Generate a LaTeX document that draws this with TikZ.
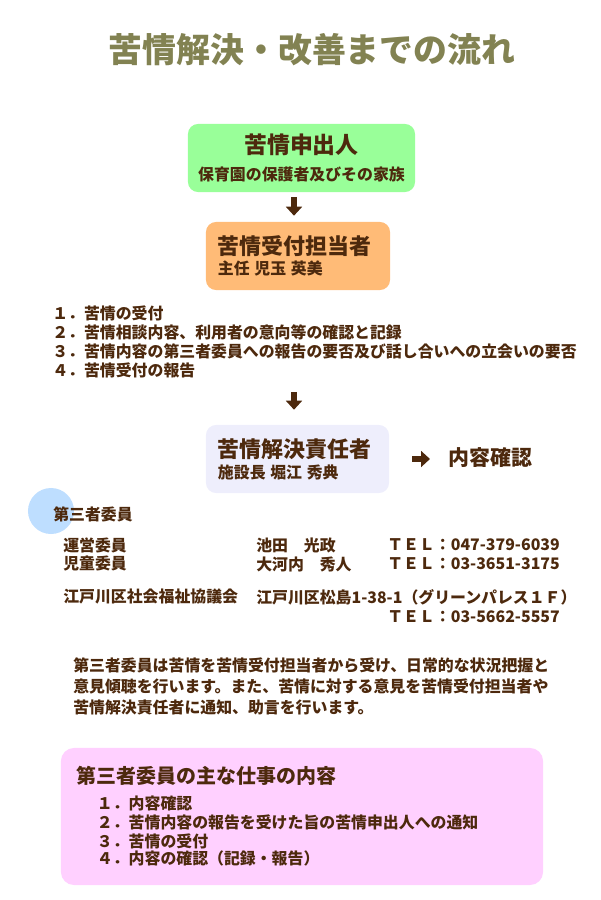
\documentclass[tikz,border=0pt]{standalone}
\usepackage{fontspec}
\setmainfont{Noto Sans CJK JP}
\usetikzlibrary{arrows.meta}

\definecolor{txtbrown}{RGB}{77,41,13}
\definecolor{titleolive}{RGB}{130,130,82}
\definecolor{applicantgreen}{RGB}{153,255,153}
\definecolor{receptionorange}{RGB}{255,187,119}
\definecolor{managerlavender}{RGB}{238,238,252}
\definecolor{dutiespink}{RGB}{255,208,255}
\definecolor{markerblue}{RGB}{190,222,255}

\tikzset{
    panel/.style={rounded corners=0.25cm, inner xsep=0.3cm, inner ysep=0pt,
        minimum height=1.7cm, align=left, font=\bfseries},
    fat arrow/.style={line width=4.25pt, draw=txtbrown,
        -{Triangle[length=6.4pt, width=11.3pt]}},
    body/.style={anchor=west, align=left,
        font=\fontsize{11.3pt}{13.5pt}\selectfont\bfseries},
}

\begin{document}
\begin{tikzpicture}[x=0.025cm, y=-0.025cm,
    every node/.style={text=txtbrown, inner sep=0pt}]
    \useasboundingbox (0, 0) rectangle (600, 900);
    % heading
    \node  (0) at (312, 50) [text=titleolive, font=\fontsize{24.1pt}{28pt}\selectfont\bfseries] {苦情解決・改善までの流れ};
    % complainant
    \node  (1) at (301.5, 158) [panel, fill=applicantgreen, align=center, text width=5.275cm, inner xsep=0.2cm] {%
    \fontsize{16.3pt}{19.4pt}\selectfont 苦情申出人\\[7.1pt]
    \fontsize{11.3pt}{19.4pt}\selectfont 保育園の保護者及びその家族};
    % reception
    \node  (2) at (298, 256) [panel, fill=receptionorange, text width=4cm] {%
    \fontsize{15.6pt}{12.5pt}\selectfont 苦情受付担当者\\[2.3pt]
    \fontsize{11.3pt}{12.5pt}\selectfont 主任 児玉 英美};
    \draw [fat arrow, shorten <=0.125cm, shorten >=0.15cm] ([xshift=-0.1cm]2.north |- 1.south) to ([xshift=-0.1cm]2.north);
    % tasks of the reception
    \node  (3) at (52, 341.5) [body] {%
    １．苦情の受付\\
    ２．苦情相談内容、利用者の意向等の確認と記録\\
    ３．苦情内容の第三者委員への報告の要否及び話し合いへの立会いの要否\\
    ４．苦情受付の報告};
    % manager
    \node  (4) at (297.5, 459) [panel, fill=managerlavender, text width=3.975cm] {%
    \fontsize{15.6pt}{12.5pt}\selectfont 苦情解決責任者\\[2.8pt]
    \fontsize{11.3pt}{12.5pt}\selectfont 施設長 堀江 秀典};
    \draw [fat arrow, shorten <=0.35cm, shorten >=0.375cm] ([xshift=-0.0875cm]4.north |- 3.south) to ([xshift=-0.0875cm]4.north);
    \node  (5) at (448, 458) [anchor=west, font=\fontsize{14.9pt}{17pt}\selectfont\bfseries] {内容確認};
    \draw [fat arrow, shorten <=0.575cm, shorten >=0.45cm] (4.east) to (4.east -| 5.west);
    % third-party committee
    \fill [markerblue] (51, 511) circle (0.575cm);
    \node  (6) at (53, 514) [body] {第三者委員};
    \node  (7) at (63, 545) [body] {運営委員};
    \node  (8) at (256, 545) [body] {池田　光政};
    \node  (9) at (387, 545) [body] {ＴＥＬ：047-379-6039};
    \node  (10) at (63, 564) [body] {児童委員};
    \node  (11) at (256, 564) [body] {大河内　秀人};
    \node  (12) at (387, 564) [body] {ＴＥＬ：03-3651-3175};
    \node  (13) at (63, 597) [body] {江戸川区社会福祉協議会};
    \node  (14) at (256, 597) [body] {江戸川区松島1-38-1（グリーンパレス１Ｆ）};
    \node  (15) at (387, 617) [body] {ＴＥＬ：03-5662-5557};
    % role of the committee
    \node  (16) at (73, 686.5) [body, font=\fontsize{11.3pt}{15.2pt}\selectfont\bfseries] {%
    第三者委員は苦情を苦情受付担当者から受け、日常的な状況把握と\\
    意見傾聴を行います。また、苦情に対する意見を苦情受付担当者や\\
    苦情解決責任者に通知、助言を行います。};
    % main duties
    \node  (17) at (302, 816.5) [panel, fill=dutiespink, rounded corners=0.325cm, minimum height=3.425cm, text width=11.25cm, inner xsep=0.4cm] {%
    \fontsize{14.2pt}{17pt}\selectfont 第三者委員の主な仕事の内容\\[4.4pt]
    \fontsize{11.3pt}{13.7pt}\selectfont\hspace*{0.5cm}１．内容確認\\
    \hspace*{0.5cm}２．苦情内容の報告を受けた旨の苦情申出人への通知\\
    \hspace*{0.5cm}３．苦情の受付\\
    \hspace*{0.5cm}４．内容の確認（記録・報告）};
\end{tikzpicture}
\end{document}
